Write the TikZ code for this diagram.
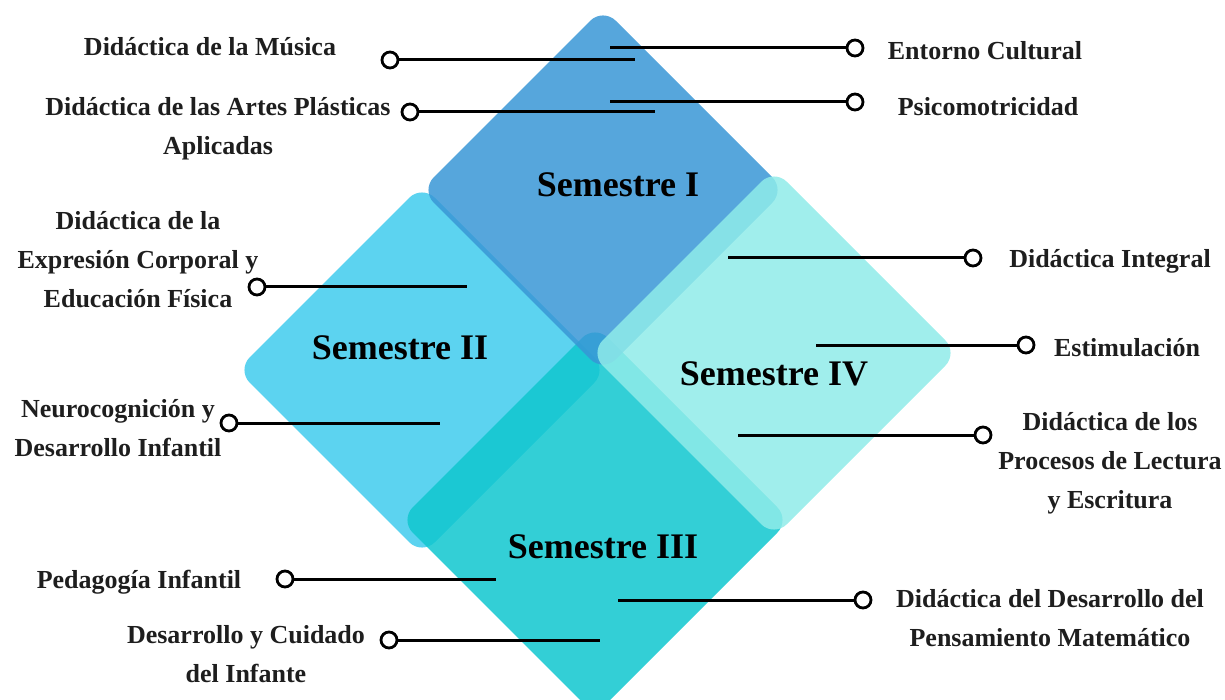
\documentclass[tikz,border=0pt]{standalone}
\usepackage{fontspec}
\setmainfont{Liberation Serif}
\usetikzlibrary{arrows}

\definecolor{semI}{RGB}{56,151,214}
\definecolor{semII}{RGB}{64,203,237}
\definecolor{semIII}{RGB}{15,199,207}
\definecolor{semIV}{RGB}{143,235,233}
\definecolor{txtgray}{RGB}{30,30,30}

\begin{document}
\begin{tikzpicture}[x=1pt,y=-1pt]
            \tikzset{tile/.style = {rounded corners=18pt, fill opacity=0.85, draw=none}}
            \tikzset{sem/.style = {font=\fontsize{36}{40}\selectfont\bfseries, text=black}}
            \tikzset{topic/.style = {font=\fontsize{26}{39}\selectfont\bfseries, text=txtgray, align=center}}
            \tikzset{dot/.style = {shape=circle, draw, fill=white, line width=2.8pt, minimum size=16pt, inner sep=0pt}}
            \tikzset{link/.style = {draw=black, line width=3pt}}
            \useasboundingbox (0,0) rectangle (1225,700);
            \clip (0,0) rectangle (1225,700);
            % diamonds
            \path[tile, fill=semII] (422,185) -- (607,370) -- (422,555) -- (237,370) -- cycle;
            \path[tile, fill=semIII] (595,325) -- (790,520) -- (595,715) -- (400,520) -- cycle;
            \path[tile, fill=semI] (603,8) -- (785,190) -- (603,372) -- (421,190) -- cycle;
            \path[tile, fill=semIV] (774,169) -- (958,353) -- (774,537) -- (590,353) -- cycle;
            % semesters
            \node[sem] (s1) at (618,185) {Semestre I};
            \node[sem] (s2) at (400,348) {Semestre II};
            \node[sem] (s3) at (603,547) {Semestre III};
            \node[sem] (s4) at (774,374) {Semestre IV};
            % topics
            \node[topic] (tMusica) at (210,47) {Didáctica de la Música};
            \node[topic] (tArtes) at (218,129) {Didáctica de las Artes Plásticas\\Aplicadas};
            \node[topic] (tEntorno) at (985,51) {Entorno Cultural};
            \node[topic] (tPsico) at (988,107) {Psicomotricidad};
            \node[topic] (tCorporal) at (138,260) {Didáctica de la\\Expresión Corporal y\\Educación Física};
            \node[topic] (tIntegral) at (1110,261) {Didáctica Integral};
            \node[topic] (tEstim) at (1127,348) {Estimulación};
            \node[topic] (tNeuro) at (118,428) {Neurocognición y\\Desarrollo Infantil};
            \node[topic] (tLectura) at (1110,463) {Didáctica de los\\Procesos de Lectura\\y Escritura};
            \node[topic] (tPedag) at (139,582) {Pedagogía Infantil};
            \node[topic] (tMate) at (1050,618) {Didáctica del Desarrollo del\\Pensamiento Matemático};
            \node[topic] (tCuidado) at (246,654) {Desarrollo y Cuidado\\del Infante};
            % circles
            \node[dot] (dMusica) at (390,60) {};
            \node[dot] (dArtes) at (410,112) {};
            \node[dot] (dEntorno) at (855,48) {};
            \node[dot] (dPsico) at (855,102) {};
            \node[dot] (dCorporal) at (257,287) {};
            \node[dot] (dIntegral) at (973,258) {};
            \node[dot] (dEstim) at (1026,345) {};
            \node[dot] (dNeuro) at (229,423) {};
            \node[dot] (dLectura) at (983,435) {};
            \node[dot] (dPedag) at (285,579) {};
            \node[dot] (dMate) at (863,600) {};
            \node[dot] (dCuidado) at (389,640) {};
            % inner ends
            \coordinate (eMusica) at (635,60);
            \coordinate (eArtes) at (655,112);
            \coordinate (eEntorno) at (610,48);
            \coordinate (ePsico) at (610,102);
            \coordinate (eCorporal) at (467,287);
            \coordinate (eIntegral) at (728,258);
            \coordinate (eEstim) at (816,345);
            \coordinate (eNeuro) at (440,423);
            \coordinate (eLectura) at (738,435);
            \coordinate (ePedag) at (496,579);
            \coordinate (eMate) at (618,600);
            \coordinate (eCuidado) at (600,640);
            % links
            \draw[link] (dMusica) -- (eMusica);
            \draw[link] (dArtes) -- (eArtes);
            \draw[link] (eEntorno) -- (dEntorno);
            \draw[link] (ePsico) -- (dPsico);
            \draw[link] (dCorporal) -- (eCorporal);
            \draw[link] (eIntegral) -- (dIntegral);
            \draw[link] (eEstim) -- (dEstim);
            \draw[link] (dNeuro) -- (eNeuro);
            \draw[link] (eLectura) -- (dLectura);
            \draw[link] (dPedag) -- (ePedag);
            \draw[link] (eMate) -- (dMate);
            \draw[link] (dCuidado) -- (eCuidado);
        \end{tikzpicture}
\end{document}
